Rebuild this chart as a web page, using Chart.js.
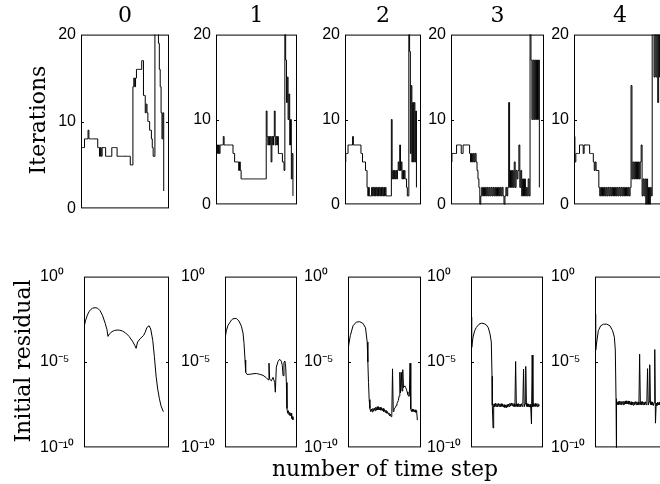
<!DOCTYPE html>
<html>
<head>
<meta charset="utf-8">
<script src="https://cdn.jsdelivr.net/npm/chart.js@4.4.1/dist/chart.umd.min.js"></script>
<style>
  html, body { margin: 0; padding: 0; background: #fff; overflow: hidden; }
  #fig { position: relative; width: 660px; height: 484px; overflow: hidden; }
  #fig canvas { position: absolute; }
  .lbl { position: absolute; font-family: "DejaVu Serif", serif; font-size: 22px; line-height: 1; color: #000; white-space: nowrap; }
</style>
</head>
<body>
<div id="fig"></div>
<script>
// panel titles and tick values
const titles    = ["0", "1", "2", "3", "4"];
const iterTicks = [0, 10, 20];
const resTicks  = [1e-10, 1e-5, 1];

// iterations per time step (one value per step, 100 steps per panel)
const iter0 = [7,7,7,7,8,8,8,8,9,8, 8,8,8,8,8,8,8,8,8,7, 7,6,7,6,7,7,7,7,6,6,
               6,6,6,6,6,7,7,7,7,7, 7,6,6,6,6,6,6,6,6,6, 6,6,6,6,6,6,5,5,5,14,
               15,14,15,16,16,16,16,16,16,17, 17,13,13,11,12,11,10,10,9,9,
               8,7,6,6,22,22,22,22,19,16, 14,11,8,11,2];
const iter1 = [6,7,6,7,6,7,7,7,7,8, 7,7,7,7,7,7,7,7,7,7, 7,6,6,5,5,5,5,5,4,5,
               4,3,3,3,3,3,3,3,3,3, 3,3,3,3,3,3,3,3,3,3, 3,3,3,3,3,3,3,3,3,3,
               3,3,11,8,7,8,7,8,5,8, 7,8,11,7,8,7,8,6,6,6,
               6,6,5,5,4,22,17,12,15,10, 13,7,10,3,6,1];
const iter2 = [5,6,6,6,7,7,7,7,7,7, 8,7,7,7,7,7,7,7,7,7, 7,6,6,5,5,5,5,4,4,2,
               1,2,1,1,1,2,1,2,1,2, 1,2,1,2,1,2,1,2,1,2, 1,2,1,2,1,1,1,1,1,1,
               1,10,3,4,3,4,3,4,3,4, 5,4,7,4,5,3,4,3,4,3,
               3,2,1,1,22,18,6,14,5,12, 5,12,5,11,2];
const iter3 = [5,6,6,6,6,6,7,7,7,7, 7,6,6,7,7,7,7,7,7,7, 6,5,6,5,6,5,6,5,4,3,
               2,0,1,2,1,2,1,2,1,2, 1,2,1,2,1,2,1,2,1,2, 1,2,1,2,1,2,1,0,1,2,
               1,2,12,2,4,2,4,2,5,2, 4,3,4,7,2,4,1,3,1,3,
               1,2,1,3,1,22,17,10,17,10, 17,10,17,10,17,2];
const iter4 = [8,5,6,6,6,6,7,7,7,7, 6,7,7,7,7,7,7,6,6,6, 6,5,4,5,4,4,4,2,1,2,
               1,2,1,2,1,2,1,2,1,2, 1,2,1,2,1,2,1,2,1,2, 1,2,1,2,1,2,1,2,1,2,
               1,2,14,3,5,3,5,3,5,3, 5,3,5,7,1,3,1,3,0,3,
               0,2,0,2,1,22,21,15,21,15, 21,12,21,15,21,15];

// initial residual: [time step, log10 of residual]
const res0 = [[0,-2.95],[2,-2.55],[4,-2.25],[6,-2.05],[8,-1.92],[10,-1.85],[13,-1.82],[16,-1.85],
              [19,-2.0],[22,-2.3],[25,-2.75],[27,-3.1],[28.2,-3.5],[30,-3.35],[33,-3.22],[36,-3.15],
              [39,-3.13],[42,-3.14],[45,-3.18],[49,-3.3],[53,-3.5],[57,-3.78],[60,-4.05],[61.3,-4.2],
              [63,-3.83],[66,-3.64],[70,-3.45],[72,-3.26],[74,-2.98],[76.6,-2.88],[78.5,-3.07],
              [80.9,-3.73],[82.8,-4.69],[84.8,-5.83],[86.7,-6.58],[88.7,-7.15],[90.6,-7.57],[93.4,-7.91]];
const res1 = [[0,-3.64],[1.9,-3.17],[4.2,-2.85],[6.5,-2.7],[8.8,-2.55],[11.1,-2.47],[15.7,-2.45],
              [19.4,-2.6],[22.7,-2.9],[25,-3.3],[26.4,-3.9],[27.8,-4.88],[28.7,-5.6],[30.6,-5.73],
              [34.3,-5.72],[38.9,-5.69],[43.5,-5.67],[48.1,-5.72],[52.8,-5.78],[57.4,-5.92],[60.2,-6.05],
              [61.1,-5.07],[62,-6.0],[64.4,-6.1],[66.7,-5.9],[69,-6.2],[69.9,-6.77],[71.3,-5.3],
              [73.6,-4.97],[75.9,-4.84],[78.2,-4.95],[79.6,-5.2],[80.6,-5.8],[81.9,-5.0],[83.3,-4.95],
              [84.3,-5.3],[85.2,-6.2],[86.1,-7.72],[87,-8.0],[88,-7.85],[88.9,-8.1],[89.8,-7.95],
              [90.7,-8.15],[91.7,-8.0],[92.6,-8.3],[93.5,-8.2],[94.4,-8.39]];
const res2 = [[0,-4.1],[0.9,-4.02],[3.2,-3.45],[6.9,-2.88],[11.5,-2.66],[16.1,-2.64],[20.7,-2.75],
              [24,-3.0],[26.3,-3.83],[27.2,-5.0],[28.1,-6.2],[29,-7.2],
              [30,-7.72],[31,-7.9],[32,-7.75],[33,-7.92],[34,-7.72],[35,-7.88],[36,-7.7],[37,-7.85],
              [38,-7.65],[39,-7.82],[40,-7.62],[41,-7.8],[42,-7.62],[43,-7.8],[44,-7.65],[45,-7.82],
              [46,-7.68],[47,-7.85],[48,-7.72],[49,-7.9],[50,-7.78],[51,-7.95],[52,-7.82],[53,-8.0],
              [54,-7.9],[55,-8.05],[56,-7.98],[57,-8.15],[58,-8.05],[59,-8.2],[60,-8.1],[61,-5.4],
              [62,-7.9],[63,-7.8],[64,-7.7],[65,-7.65],[66,-7.55],[67,-7.45],[68,-7.35],[69,-7.25],
              [70,-7.0],[71,-5.6],[72,-6.8],[73,-5.6],[74,-6.7],[75,-5.45],[76,-6.5],[77,-6.4],
              [78,-6.45],[79,-6.5],[80,-6.6],[81,-6.75],[82,-6.9],[83,-7.0],[84,-7.0],[85,-5.07],
              [86,-7.75],[87,-7.9],[88,-7.75],[89,-7.9],[90,-7.78],[91,-7.92],[92,-7.8],[93,-7.95],
              [94,-7.85],[95,-8.4]];
const res3 = [[0,-2.37],[0.9,-4.15],[2.8,-3.55],[5.1,-3.17],[7.4,-2.98],[11.1,-2.79],[14.4,-2.73],
              [18.1,-2.75],[21.3,-2.83],[24.1,-3.0],[26.4,-3.36],[28.2,-3.83],[29.2,-5.83],[29.6,-7.53],
              [30.6,-8.86],[31.5,-7.5],
              [32,-7.45],[33,-7.62],[34,-7.42],[35,-7.6],[36,-7.44],[37,-7.63],[38,-7.43],[39,-7.6],
              [40,-7.45],[41,-7.62],[42,-7.44],[43,-7.6],[44,-7.46],[45,-7.64],[46,-7.5],[47,-7.66],
              [48,-7.52],[49,-7.68],[50,-7.5],[51,-7.64],[52,-7.46],[53,-7.6],[54,-7.42],[55,-7.58],
              [56,-7.4],[57,-7.56],[58,-7.42],[59,-7.6],[60,-7.45],[61,-7.62],[62,-4.97],[63,-7.6],
              [64,-7.45],[65,-7.62],[66,-7.44],[67,-7.6],[68,-7.46],[69,-7.62],[70,-7.44],[71,-7.6],
              [72,-7.48],[73,-5.41],[74,-7.62],[75,-7.45],[76,-5.26],[77,-7.6],[78,-7.44],[79,-7.62],
              [80,-7.46],[81,-7.64],[82,-7.48],[83,-7.66],[84,-8.63],[85,-4.59],[86,-7.62],[87,-7.45],
              [88,-7.6],[89,-7.43],[90,-7.6],[91,-7.45],[92,-7.62],[93,-7.44],[94,-7.6],[95,-7.5]];
const res4 = [[0,-2.2],[0.9,-4.3],[4.6,-3.17],[7.9,-2.88],[11.6,-2.79],[16.2,-2.78],[20.8,-2.88],
              [24.5,-3.17],[26.9,-3.55],[28.2,-4.3],[29.2,-7.15],[29.6,-11],[30.2,-7.35],
              [31,-7.5],[32,-7.32],[33,-7.5],[34,-7.3],[35,-7.48],[36,-7.3],[37,-7.5],[38,-7.32],
              [39,-7.5],[40,-7.3],[41,-7.48],[42,-7.28],[43,-7.46],[44,-7.27],[45,-7.45],[46,-7.28],
              [47,-7.47],[48,-7.3],[49,-7.5],[50,-7.33],[51,-7.52],[52,-7.35],[53,-7.53],[54,-7.34],
              [55,-7.5],[56,-7.32],[57,-7.5],[58,-7.33],[59,-7.52],[60,-7.34],[61,-7.5],[62,-4.54],
              [63,-7.5],[64,-7.33],[65,-7.5],[66,-7.32],[67,-7.5],[68,-7.34],[69,-7.52],[70,-7.33],
              [71,-7.5],[72,-7.35],[73,-5.39],[74,-7.52],[75,-7.34],[76,-5.16],[77,-7.5],[78,-7.33],
              [79,-7.52],[80,-7.35],[81,-7.55],[82,-7.38],[83,-4.27],[84,-8.58],[85,-7.4],[86,-7.55],
              [87,-7.36],[88,-7.52],[89,-7.35],[90,-7.5],[91,-7.34],[92,-7.5],[93,-7.35],[94,-7.5],
              [95,-7.4]];

const iterSeries = [iter0, iter1, iter2, iter3, iter4];
const resSeries  = [res0, res1, res2, res3, res4];

// layout: [left, top, width, height] of each plot box, in page pixels
const topBoxes    = [[81, 32, 88, 179], [216, 32, 81, 175], [345, 32, 76, 175], [451, 32, 93, 175], [574, 32, 92, 175]];
const bottomBoxes = [[84, 274, 85, 176], [225, 274, 72, 176], [348, 274, 73, 176], [471, 274, 72, 176], [595, 274, 72, 176]];

const fig = document.getElementById('fig');
const tickFont = { family: '"Liberation Sans", Arial, sans-serif', size: 16 };
const PT = 12, PB = 12, PR = 3;

const lineStyle = {
    borderColor: '#000',
    borderWidth: 1,
    borderJoinStyle: 'round',
    pointRadius: 0,
    tension: 0,
    fill: false
};

// box round each plot plus short inward ticks
const framePlugin = {
    id: 'frame',
    afterDraw(chart) {
        const { ctx, chartArea: a, scales: { y } } = chart;
        ctx.save();
        ctx.strokeStyle = '#000';
        ctx.lineWidth = 1;
        ctx.strokeRect(a.left + 0.5, a.top + 0.5, a.right - a.left - 1, a.bottom - a.top - 1);
        ctx.beginPath();
        y.ticks.forEach(t => {
            const py = Math.round(y.getPixelForValue(t.value)) + 0.5;
            if (py < a.top + 2 || py > a.bottom - 2) return;
            ctx.moveTo(a.left, py); ctx.lineTo(a.left + 3, py);
            ctx.moveTo(a.right - 3, py); ctx.lineTo(a.right, py);
        });
        ctx.stroke();
        ctx.restore();
    }
};

const sup = { '0': '\u2070', '1': '\u00b9', '5': '\u2075', '-': '\u207b' };
function powLabel(v) {
    const e = String(Math.round(Math.log10(v)));
    return '10' + [...e].map(ch => sup[ch]).join('');
}

function makePanel(box, lw, datasets, yScale) {
    const [l, t, w, h] = box;
    const c = document.createElement('canvas');
    c.width = lw + w + PR;
    c.height = PT + h + PB;
    c.style.left = (l - lw) + 'px';
    c.style.top = (t - PT) + 'px';
    c.style.width = c.width + 'px';
    c.style.height = c.height + 'px';
    fig.appendChild(c);
    yScale.afterFit = s => { s.width = lw; };
    new Chart(c, {
        type: 'line',
        data: { datasets },
        options: {
            responsive: false,
            animation: false,
            events: [],
            layout: { padding: { top: PT, bottom: PB, right: PR, left: 0 } },
            plugins: { legend: { display: false }, tooltip: { enabled: false } },
            scales: {
                x: { type: 'linear', min: 0, max: 100, display: false },
                y: yScale
            }
        },
        plugins: [framePlugin]
    });
}

function addText(txt, x, y, rotate) {
    const d = document.createElement('div');
    d.className = 'lbl';
    d.textContent = txt;
    d.style.left = x + 'px';
    d.style.top = y + 'px';
    d.style.transform = 'translate(-50%, -50%)' + (rotate ? ' rotate(-90deg)' : '');
    fig.appendChild(d);
}

iterSeries.forEach((vals, k) => {
    makePanel(topBoxes[k], 60, [{ data: vals.map((v, i) => ({ x: i, y: v })), stepped: true, ...lineStyle }], {
        type: 'linear', min: 0, max: 20,
        afterBuildTicks: s => { s.ticks = iterTicks.map(v => ({ value: v })); },
        ticks: { font: tickFont, color: '#000', padding: 5 },
        grid: { display: false, drawTicks: false },
        border: { display: false }
    });
    const [l, , w] = topBoxes[k];
    addText(titles[k], l + w / 2, 14.5, false);
});

resSeries.forEach((pairs, k) => {
    makePanel(bottomBoxes[k], 44, [{ data: pairs.map(([s, e]) => ({ x: s, y: 10 ** e })), ...lineStyle }], {
        type: 'logarithmic', min: 1e-10, max: 1,
        afterBuildTicks: s => { s.ticks = resTicks.map(v => ({ value: v })); },
        ticks: { font: tickFont, color: '#000', padding: 5, crossAlign: 'far', callback: v => powLabel(v) },
        grid: { display: false, drawTicks: false },
        border: { display: false }
    });
});

addText('Iterations', 38, 120, true);
addText('Initial residual', 22.5, 361, true);
addText('number of time step', 385, 468.5, false);
</script>
</body>
</html>
